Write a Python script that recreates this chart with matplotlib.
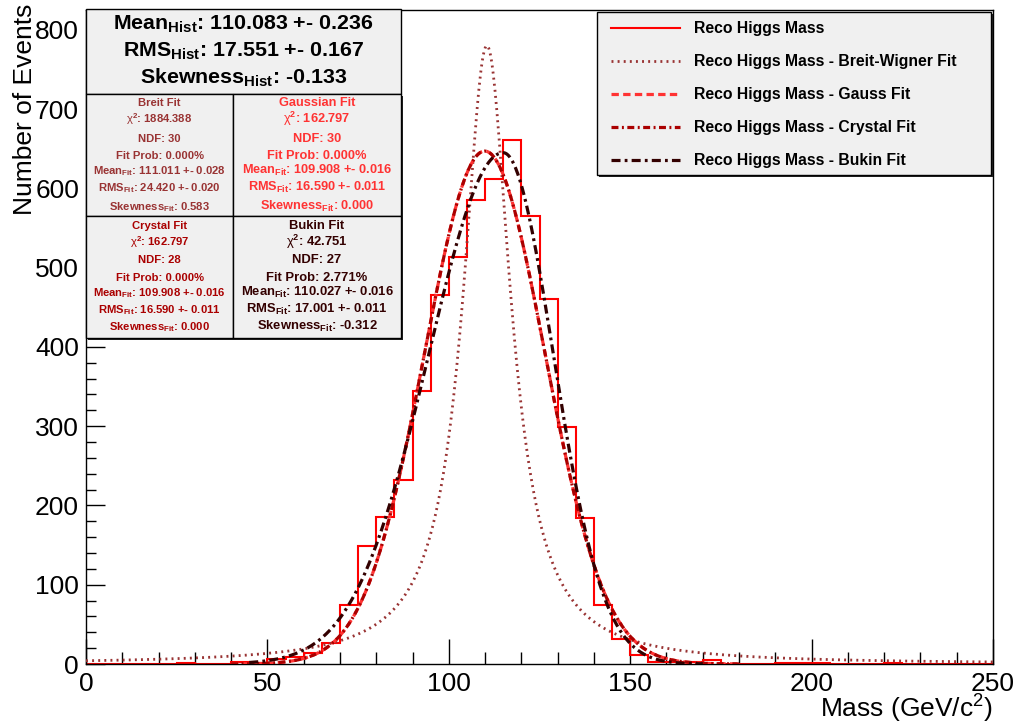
import numpy as np
import matplotlib.pyplot as plt
from matplotlib.patches import Rectangle
from matplotlib.ticker import MultipleLocator

plt.rcParams['font.family'] = ['Liberation Sans', 'DejaVu Sans']
plt.rcParams['mathtext.fontset'] = 'custom'
plt.rcParams['mathtext.rm'] = 'Liberation Sans'
plt.rcParams['mathtext.bf'] = 'Liberation Sans:bold'
plt.rcParams['mathtext.it'] = 'Liberation Sans:italic'
plt.rcParams['lines.scale_dashes'] = False

W, H = 1017, 726

# reco Higgs mass histogram, 5 GeV bins 0-250
bin_edges = np.arange(0, 255, 5)
counts = [0, 0, 0, 0, 0, 1, 0, 0, 2, 1,
          6, 9, 14, 27, 75, 149, 185, 232, 344, 465,
          514, 585, 612, 661, 565, 461, 299, 184, 75, 31,
          11, 3, 2, 3, 5, 0, 0, 0, 1, 1,
          1, 0, 0, 0, 1, 0, 0, 0, 0, 0]

# fit parameters
bw_peak, bw_mean, bw_gamma = 780, 110.5, 16.0
gaus_peak, gaus_mean, gaus_sigma = 647, 109.908, 16.59
cb_peak, cb_mean, cb_sigma = 647, 109.908, 16.59
bukin_peak, bukin_mode, bukin_sig_l, bukin_sig_r = 645, 115.0, 20.5, 13.8

labels = ['Reco Higgs Mass', 'Reco Higgs Mass - Breit-Wigner Fit',
          'Reco Higgs Mass - Gauss Fit', 'Reco Higgs Mass - Crystal Fit',
          'Reco Higgs Mass - Bukin Fit']

hist_stats = [r'$\mathbf{Mean}_{\mathbf{Hist}}$: 110.083 +- 0.236',
              r'$\mathbf{RMS}_{\mathbf{Hist}}$: 17.551 +- 0.167',
              r'$\mathbf{Skewness}_{\mathbf{Hist}}$: -0.133']

fit_names = ['Breit Fit', 'Gaussian Fit', 'Crystal Fit', 'Bukin Fit']
fit_chi2 = ['1884.388', '162.797', '162.797', '42.751']
fit_ndf = ['30', '30', '28', '27']
fit_prob = ['0.000%', '0.000%', '0.000%', '2.771%']
fit_mean = ['111.011 +- 0.028', '109.908 +- 0.016', '109.908 +- 0.016', '110.027 +- 0.016']
fit_rms = ['24.420 +- 0.020', '16.590 +- 0.011', '16.590 +- 0.011', '17.001 +- 0.011']
fit_skew = ['0.583', '0.000', '0.000', '-0.312']

c_hist = '#ff0000'
c_bw = '#993333'
c_gaus = '#ff3333'
c_cb = '#aa0000'
c_bukin = '#330000'

fig = plt.figure(figsize=(W / 100, H / 100), dpi=100)
ax = fig.add_axes([86 / W, 1 - 664 / H, 907 / W, 654 / H])

ax.stairs(counts, bin_edges, color=c_hist, lw=1.5, zorder=2)

x_all = np.linspace(0, 250, 1001)
x_fit = np.linspace(40, 180, 701)
x_buk = np.linspace(45, 170, 626)

half = bw_gamma / 2
bw = bw_peak * half ** 2 / ((x_all - bw_mean) ** 2 + half ** 2)
gaus = gaus_peak * np.exp(-0.5 * ((x_fit - gaus_mean) / gaus_sigma) ** 2)
cb = cb_peak * np.exp(-0.5 * ((x_fit - cb_mean) / cb_sigma) ** 2)
sig = np.where(x_buk < bukin_mode, bukin_sig_l, bukin_sig_r)
bukin = bukin_peak * np.exp(-0.5 * ((x_buk - bukin_mode) / sig) ** 2)

l_hist, = ax.plot([], [], color=c_hist, lw=1.5)
l_bw, = ax.plot(x_all, bw, color=c_bw, lw=2.0, dashes=(1.4, 3.0), zorder=3)
l_gaus, = ax.plot(x_fit, gaus, color=c_gaus, lw=2.3, dashes=(5.3, 3.1), zorder=4)
l_cb, = ax.plot(x_fit, cb, color=c_cb, lw=2.3, dashes=(5, 2.5, 1.4, 2.5), zorder=5)
l_buk, = ax.plot(x_buk, bukin, color=c_bukin, lw=2.3, dashes=(6.5, 3, 2, 3), zorder=6)

ax.set_xlim(0, 250)
ax.set_ylim(0, 825)
ax.xaxis.set_major_locator(MultipleLocator(50))
ax.xaxis.set_minor_locator(MultipleLocator(10))
ax.yaxis.set_major_locator(MultipleLocator(100))
ax.yaxis.set_minor_locator(MultipleLocator(20))
ax.tick_params(which='both', direction='in', width=1, labelsize=19)
ax.tick_params(axis='x', which='major', length=18, pad=6)
ax.tick_params(axis='x', which='minor', length=9)
ax.tick_params(axis='y', which='major', length=14, pad=5)
ax.tick_params(axis='y', which='minor', length=7)
ax.set_yticks(np.arange(0, 801, 100))
for s in ax.spines.values():
    s.set_linewidth(1)

fig.text(25 / W, 1 - 4 / H, 'Number of Events', rotation=90, ha='center', va='top', fontsize=19)
fig.text(993 / W, 1 - 718 / H, r'Mass (GeV/c$^{2}$)', ha='right', va='baseline', fontsize=19)


def box(x0, y0, x1, y1, shadow=2):
    if shadow:
        fig.add_artist(Rectangle((x0 / W + shadow / W, 1 - (y1 + shadow) / H), (x1 - x0) / W, (y1 - y0) / H,
                                 transform=fig.transFigure, facecolor='#222222', edgecolor='none', zorder=9))
    fig.add_artist(Rectangle((x0 / W, 1 - y1 / H), (x1 - x0) / W, (y1 - y0) / H,
                             transform=fig.transFigure, facecolor='#f0f0f0', edgecolor='black', lw=1, zorder=10))


# histogram stats box
box(86, 9, 401, 94, shadow=0)
for y, s in zip([30, 57, 84], hist_stats):
    fig.text(243.5 / W, 1 - y / H, s, ha='center', va='baseline', fontsize=15.4, fontweight='bold', zorder=11)

# fit boxes
cells = [(86, 94, 233, 216), (233, 94, 401, 216), (86, 216, 233, 338), (233, 216, 401, 338)]
colors = [c_bw, c_gaus, c_cb, c_bukin]
sizes = [8.1, 9.2, 8.1, 9.4]
rows = [[106, 123, 142, 159, 174, 191, 210], [229, 246, 263, 281, 296, 313, 330]]
for i, (x0, y0, x1, y1) in enumerate(cells):
    box(x0, y0, x1, y1, shadow=2 if x1 == 401 or y1 == 338 else 0)
    lines = [fit_names[i],
             r'$\mathrm{\chi}^{\mathbf{2}}$: ' + fit_chi2[i],
             'NDF: ' + fit_ndf[i],
             'Fit Prob: ' + fit_prob[i],
             r'$\mathbf{Mean}_{\mathbf{Fit}}$: ' + fit_mean[i],
             r'$\mathbf{RMS}_{\mathbf{Fit}}$: ' + fit_rms[i],
             r'$\mathbf{Skewness}_{\mathbf{Fit}}$: ' + fit_skew[i]]
    for y, s in zip(rows[i // 2], lines):
        fig.text((x0 + x1) / 2 / W, 1 - y / H, s, ha='center', va='baseline', fontsize=sizes[i],
                 fontweight='bold', color=colors[i], zorder=11)

# legend
box(597, 12, 991, 175)
leg = fig.legend([l_hist, l_bw, l_gaus, l_cb, l_buk], labels, loc='upper left',
                 bbox_to_anchor=(597 / W, 1 - 7 / H), bbox_transform=fig.transFigure,
                 frameon=False, handlelength=4.4, handletextpad=0.9, labelspacing=1.15,
                 prop={'size': 11.3, 'weight': 'bold'})
leg.set_zorder(12)

fig.savefig('out.png', dpi=100)
